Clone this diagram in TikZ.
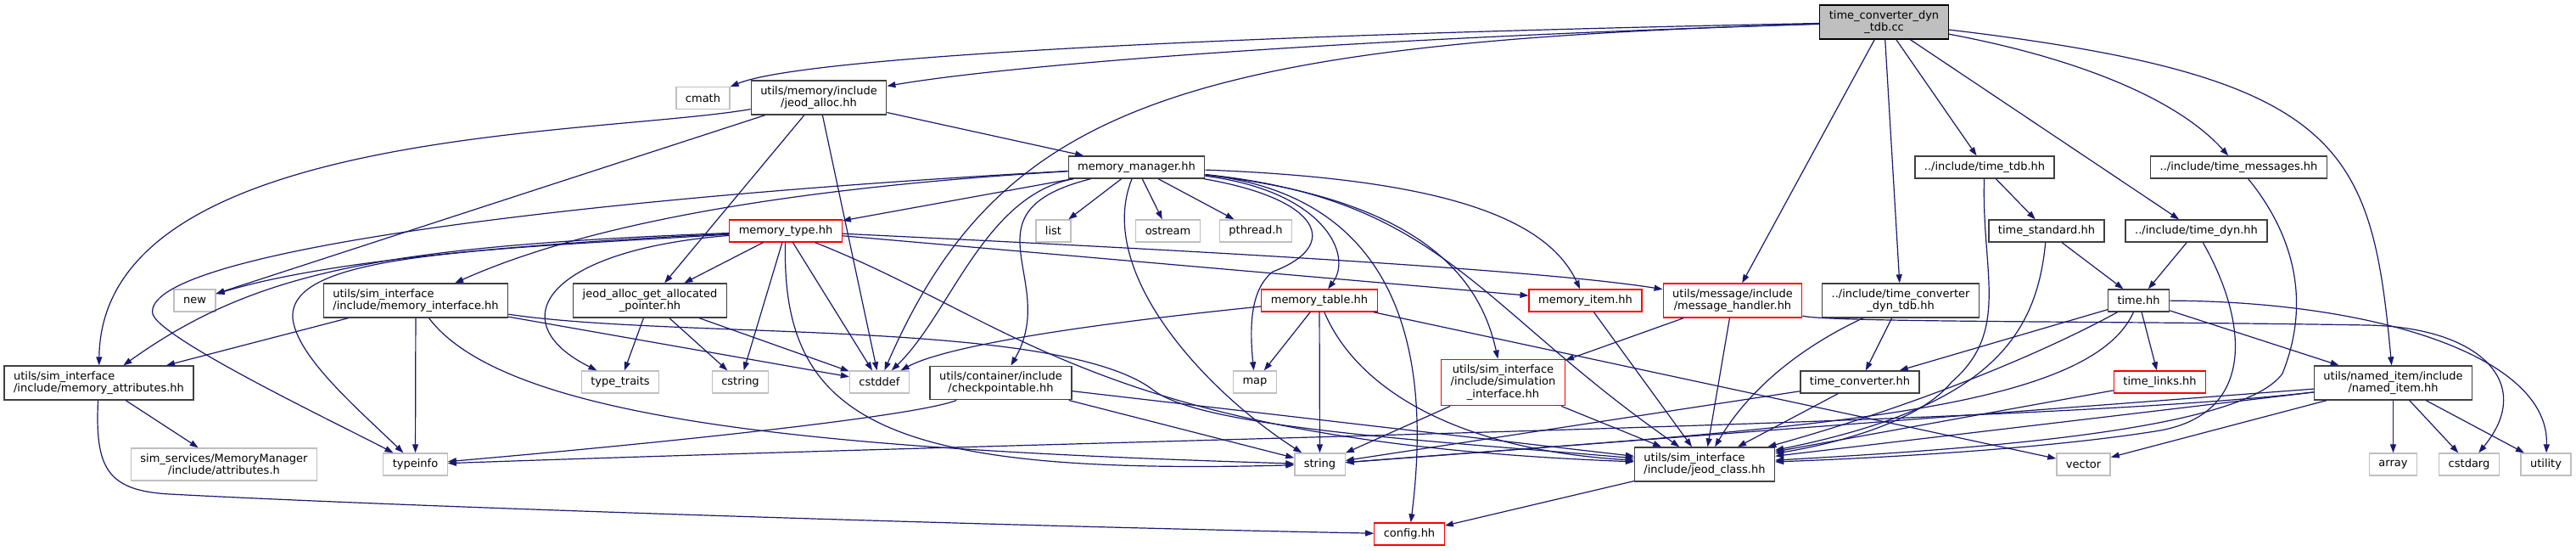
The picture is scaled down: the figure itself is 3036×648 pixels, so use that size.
\documentclass[tikz,border=0pt]{standalone}
\usepackage{fontspec}
\setmainfont{DejaVu Sans}
\usetikzlibrary{arrows.meta}

\definecolor{edgeblue}{HTML}{191970}
\definecolor{greyhdr}{HTML}{404040}
\definecolor{greysys}{HTML}{BFBFBF}

\tikzset{
  box/.style={draw, fill=white, line width=1.3pt, align=center, inner xsep=11pt, inner ysep=6.3pt,
    minimum height=26pt, font=\fontsize{13}{14.5}\selectfont},
  hdr/.style={box, draw=greyhdr},
  trunc/.style={box, draw=red},
  sys/.style={box, draw=greysys},
  rootfile/.style={box, draw=black, fill=greysys},
  dep/.style={edgeblue, line width=1.2pt, -{Triangle[length=10pt,width=7pt]}},
}

\begin{document}
\begin{tikzpicture}[x=1pt, y=-1pt]

\fill[white] (0,0) rectangle (3036,648);
\useasboundingbox (0,0) rectangle (3036,648);

% files
\node[rootfile] (root) at (2220.5,26) {time\_converter\_dyn\\\_tdb.cc};
\node[sys] (cmath) at (828.5,115.5) {cmath};
\node[hdr] (jalloc) at (965,115) {utils/memory/include\\/jeod\_alloc.hh};
\node[hdr] (memmgr) at (1339.5,197) {memory\_manager.hh};
\node[hdr] (tdb) at (2339,197) {../include/time\_tdb.hh};
\node[hdr] (tmsg) at (2638.5,197) {../include/time\_messages.hh};
\node[sys] (list) at (1241.5,272) {list};
\node[sys] (ostream) at (1376.5,272) {ostream};
\node[sys] (pthread) at (1480,272) {pthread.h};
\node[trunc] (memtype) at (926,272) {memory\_type.hh};
\node[hdr] (tstd) at (2412,272) {time\_standard.hh};
\node[hdr] (tdyn) at (2588.5,272) {../include/time\_dyn.hh};
\node[sys] (new) at (229.5,354) {new};
\node[hdr, align=left] (memif) at (490,354) {utils/sim\_interface\\/include/memory\_interface.hh};
\node[hdr] (jgetptr) at (766,354) {jeod\_alloc\_get\_allocated\\\_pointer.hh};
\node[trunc] (memtable) at (1555,354) {memory\_table.hh};
\node[trunc] (memitem) at (1868.5,354) {memory\_item.hh};
\node[trunc] (msghdl) at (2042,354) {utils/message/include\\/message\_handler.hh};
\node[hdr] (tcdthh) at (2240,354) {../include/time\_converter\\\_dyn\_tdb.hh};
\node[hdr] (timehh) at (2520.5,354) {time.hh};
\node[hdr, align=left] (memattr) at (116.5,451) {utils/sim\_interface\\/include/memory\_attributes.hh};
\node[sys] (typetraits) at (731,450) {type\_traits};
\node[sys] (cstring) at (872.5,450) {cstring};
\node[sys] (cstddef) at (1036.5,450) {cstddef};
\node[hdr] (chkpt) at (1179.5,451) {utils/container/include\\/checkpointable.hh};
\node[sys] (map) at (1479,450) {map};
\node[trunc] (siminterf) at (1771.5,450.5) {utils/sim\_interface\\/include/simulation\\\_interface.hh};
\node[hdr] (tconv) at (2192,450) {time\_converter.hh};
\node[trunc] (tlinks) at (2545.5,450) {time\_links.hh};
\node[hdr] (nameditem) at (2820.5,451) {utils/named\_item/include\\/named\_item.hh};
\node[sys] (attrh) at (264,547) {sim\_services/MemoryManager\\/include/attributes.h};
\node[sys] (typeinfo) at (489.5,547) {typeinfo};
\node[sys] (string) at (1555.5,547) {string};
\node[hdr, align=left] (jeodclass) at (2009,547) {utils/sim\_interface\\/include/jeod\_class.hh};
\node[sys] (vector) at (2455.5,547) {vector};
\node[sys] (array) at (2820.5,547) {array};
\node[sys] (cstdarg) at (2910,547) {cstdarg};
\node[sys] (utility) at (3000.5,547) {utility};
\node[trunc] (config) at (1661,629) {config.hh};

\begin{scope}[dep]
% time_converter_dyn_tdb.cc
\draw (root) .. controls (1500,40) and (950,65) .. (cmath);
\draw (root) .. controls (1600,45) and (1200,75) .. (jalloc);
\draw (root) .. controls (1400,50) and (1180,120) .. (cstddef);
\draw (root) -- (msghdl);
\draw (root) -- (tcdthh);
\draw (root) -- (tdb);
\draw (root) -- (tdyn);
\draw (root) .. controls (2430,65) and (2560,110) .. (tmsg);
\draw (root) .. controls (2760,90) and (2795,170) .. (nameditem);

% jeod_alloc.hh
\draw (jalloc) -- (memmgr);
\draw (jalloc) .. controls (700,160) and (120,150) .. (memattr);
\draw (jalloc) -- (new);
\draw (jalloc) -- (jgetptr);
\draw (jalloc) -- (cstddef);

% memory_manager.hh
\draw (memmgr) .. controls (650,235) and (165,300) .. (180,370) .. controls (190,400) and (400,500) .. (typeinfo);
\draw (memmgr) .. controls (950,220) and (700,260) .. (memif);
\draw (memmgr) -- (memtype);
\draw (memmgr) .. controls (1160,230) and (1120,370) .. (cstddef);
\draw (memmgr) .. controls (1130,250) and (1250,330) .. (chkpt);
\draw (memmgr) -- (list);
\draw (memmgr) .. controls (1290,320) and (1420,460) .. (string);
\draw (memmgr) -- (ostream);
\draw (memmgr) -- (pthread);
\draw (memmgr) .. controls (1560,235) and (1580,290) .. (1500,320) .. controls (1475,340) and (1472,380) .. (map);
\draw (memmgr) .. controls (1560,225) and (1595,300) .. (memtable);
\draw (memmgr) .. controls (1640,230) and (1690,400) .. (config);
\draw (memmgr) .. controls (1680,235) and (1745,330) .. (siminterf);
\draw (memmgr) .. controls (1700,235) and (1740,360) .. (jeodclass);
\draw (memmgr) .. controls (1680,210) and (1820,250) .. (memitem);

% memory_type.hh
\draw (memtype) .. controls (600,288) and (380,308) .. (new);
\draw (memtype) .. controls (450,290) and (300,320) .. (memattr);
\draw (memtype) .. controls (550,295) and (340,300) .. (345,375) .. controls (350,420) and (420,480) .. (typeinfo);
\draw (memtype) .. controls (640,295) and (590,380) .. (typetraits);
\draw (memtype) -- (jgetptr);
\draw (memtype) -- (cstring);
\draw (memtype) .. controls (920,500) and (1050,560) .. (string);
\draw (memtype) -- (cstddef);
\draw (memtype) .. controls (1200,380) and (1300,520) .. (jeodclass);
\draw (memtype) -- (memitem);
\draw (memtype) .. controls (1300,290) and (1800,315) .. (msghdl);

% jeod_alloc_get_allocated_pointer.hh
\draw (jgetptr) -- (typetraits);
\draw (jgetptr) -- (cstring);
\draw (jgetptr) -- (cstddef);

% memory_interface.hh
\draw (memif) -- (memattr);
\draw (memif) -- (typeinfo);
\draw (memif) .. controls (600,500) and (1000,530) .. (string);
\draw (memif) -- (cstddef);
\draw (memif) .. controls (800,400) and (1250,375) .. (1360,460) .. controls (1420,505) and (1700,520) .. (jeodclass);

% memory_attributes.hh
\draw (memattr) -- (attrh);
\draw (memattr) .. controls (112,550) and (125,578) .. (200,582) .. controls (500,598) and (1200,620) .. (config);

% checkpointable.hh
\draw (chkpt) .. controls (1080,490) and (800,520) .. (typeinfo);
\draw (chkpt) -- (string);
\draw (chkpt) -- (jeodclass);

% memory_table.hh, memory_item.hh
\draw (memtable) .. controls (1250,385) and (1110,410) .. (cstddef);
\draw (memtable) -- (map);
\draw (memtable) -- (string);
\draw (memtable) .. controls (1600,460) and (1720,530) .. (jeodclass);
\draw (memtable) -- (vector);
\draw (memitem) -- (jeodclass);

% message_handler.hh, simulation_interface.hh, jeod_class.hh
\draw (msghdl) -- (siminterf);
\draw (msghdl) -- (jeodclass);
\draw (msghdl) .. controls (2160,380) and (2500,378) .. (2790,383) .. controls (2920,385) and (2990,450) .. (cstdarg);
\draw (siminterf) -- (string);
\draw (siminterf) -- (jeodclass);
\draw (jeodclass) -- (config);

% time headers
\draw (tcdthh) -- (tconv);
\draw (tcdthh) .. controls (2120,410) and (2060,460) .. (jeodclass);
\draw (tdb) -- (tstd);
\draw (tdb) .. controls (2335,320) and (2370,390) .. (2300,450) .. controls (2260,500) and (2150,525) .. (jeodclass);
\draw (tstd) -- (timehh);
\draw (tstd) .. controls (2400,400) and (2340,480) .. (jeodclass);
\draw (tdyn) -- (timehh);
\draw (tdyn) .. controls (2650,380) and (2660,490) .. (2540,508) .. controls (2400,530) and (2200,540) .. (jeodclass);
\draw (tmsg) .. controls (2690,260) and (2730,340) .. (2690,440) .. controls (2640,510) and (2300,530) .. (jeodclass);
\draw (timehh) -- (tconv);
\draw (timehh) .. controls (2400,420) and (2250,480) .. (jeodclass);
\draw (timehh) .. controls (2460,490) and (2100,505) .. (string);
\draw (timehh) -- (tlinks);
\draw (timehh) -- (nameditem);
\draw (timehh) .. controls (2800,355) and (3005,420) .. (utility);
\draw (tlinks) -- (jeodclass);
\draw (tconv) -- (jeodclass);
\draw (tconv) -- (string);

% named_item.hh
\draw (nameditem) -- (array);
\draw (nameditem) -- (cstdarg);
\draw (nameditem) -- (utility);
\draw (nameditem) -- (vector);
\draw (nameditem) -- (jeodclass);
\draw (nameditem) -- (string);
\draw (nameditem) .. controls (2400,500) and (1400,515) .. (typeinfo);
\end{scope}

\end{tikzpicture}
\end{document}
